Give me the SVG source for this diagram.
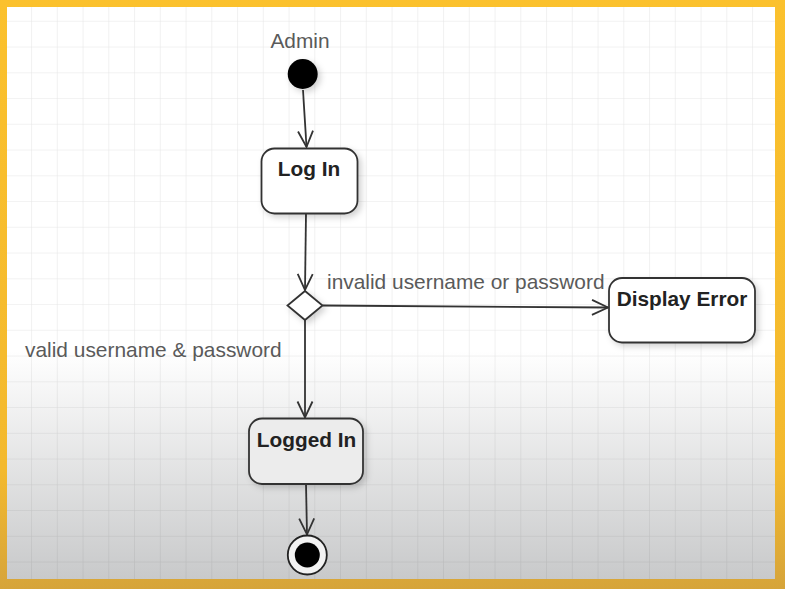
<svg xmlns="http://www.w3.org/2000/svg" width="785" height="589" viewBox="0 0 785 589">
<style>
.node{fill:#fff;stroke:#333;stroke-width:1.8}
.lbl{font-family:"Liberation Sans",Arial,sans-serif;font-size:20.9px;fill:#5a5a5a}
.title{font-family:"Liberation Sans",Arial,sans-serif;font-size:20.8px;font-weight:bold;fill:#222;text-anchor:middle}
.edge{fill:none;stroke:#333;stroke-width:1.8}
</style>
<defs>
<linearGradient id="bg" gradientUnits="userSpaceOnUse" x1="0" y1="7" x2="0" y2="580">
<stop offset="0" stop-color="#ffffff"/>
<stop offset="0.6" stop-color="#ffffff"/>
<stop offset="1" stop-color="#c8c9ca"/>
</linearGradient>
<linearGradient id="frame" gradientUnits="userSpaceOnUse" x1="0" y1="0" x2="0" y2="589">
<stop offset="0" stop-color="#fbc12d"/>
<stop offset="0.8" stop-color="#f3b92e"/>
<stop offset="1" stop-color="#d6a43a"/>
</linearGradient>
<pattern id="grid" patternUnits="userSpaceOnUse" x="5.3" y="20.8" width="25.75" height="25.75">
<path d="M0,0 H25.75 M0,0 V25.75" fill="none" stroke="#000" stroke-opacity="0.1" stroke-width="1"/>
</pattern>
<filter id="sh" x="-20%" y="-20%" width="150%" height="150%">
<feDropShadow dx="3" dy="3" stdDeviation="3" flood-color="#000" flood-opacity="0.18"/>
</filter>
<marker id="arr" markerUnits="userSpaceOnUse" markerWidth="20" markerHeight="20" viewBox="-18 -10 20 20" refX="0" refY="0" orient="auto">
<path d="M-16,-7.5 L0,0 L-16,7.5" fill="none" stroke="#333" stroke-width="1.8"/>
</marker>
</defs>
<rect x="0" y="0" width="785" height="589" fill="url(#frame)"/>
<rect x="7" y="7" width="768" height="572" fill="url(#bg)"/>
<rect x="7" y="7" width="768" height="572" fill="url(#grid)"/>

<g id="connectors">
<path class="edge" d="M303,90 L306.5,147" marker-end="url(#arr)"/>
<path class="edge" d="M306,213.5 L305,290" marker-end="url(#arr)"/>
<path class="edge" d="M322.5,305.5 L608,307.5" marker-end="url(#arr)"/>
<path class="edge" d="M305,320 L305,417.5" marker-end="url(#arr)"/>
<path class="edge" d="M306,484 L307,534.5" marker-end="url(#arr)"/>
</g>

<g id="label-invalid"><text class="lbl" x="327" y="289">invalid username or password</text></g>
<g id="label-valid"><text class="lbl" x="25" y="357">valid username &amp; password</text></g>

<g id="start">
<text class="lbl" x="300" y="47.5" text-anchor="middle">Admin</text>
<circle cx="302.7" cy="74" r="15" fill="#000" filter="url(#sh)"/>
</g>

<g id="login">
<rect class="node" x="261.5" y="148.5" width="96" height="65" rx="13" filter="url(#sh)"/>
<text class="title" x="309" y="176">Log In</text>
</g>

<g id="decision">
<polygon class="node" points="305,291 322.5,305.5 305,320 287.5,305.5" filter="url(#sh)"/>
</g>

<g id="display-error">
<rect class="node" x="609" y="278" width="146" height="64.5" rx="13" filter="url(#sh)"/>
<text class="title" x="682" y="306">Display Error</text>
</g>

<g id="logged-in">
<rect class="node" x="249" y="418.5" width="114" height="65.5" rx="13" style="fill:#ececec" filter="url(#sh)"/>
<text class="title" x="306.5" y="446.5">Logged In</text>
</g>

<g id="end">
<circle cx="307.3" cy="555" r="19.5" fill="#f2f2f2" stroke="#222" stroke-width="1.8"/>
<circle cx="307.3" cy="555" r="12.5" fill="#000"/>
</g>
</svg>
